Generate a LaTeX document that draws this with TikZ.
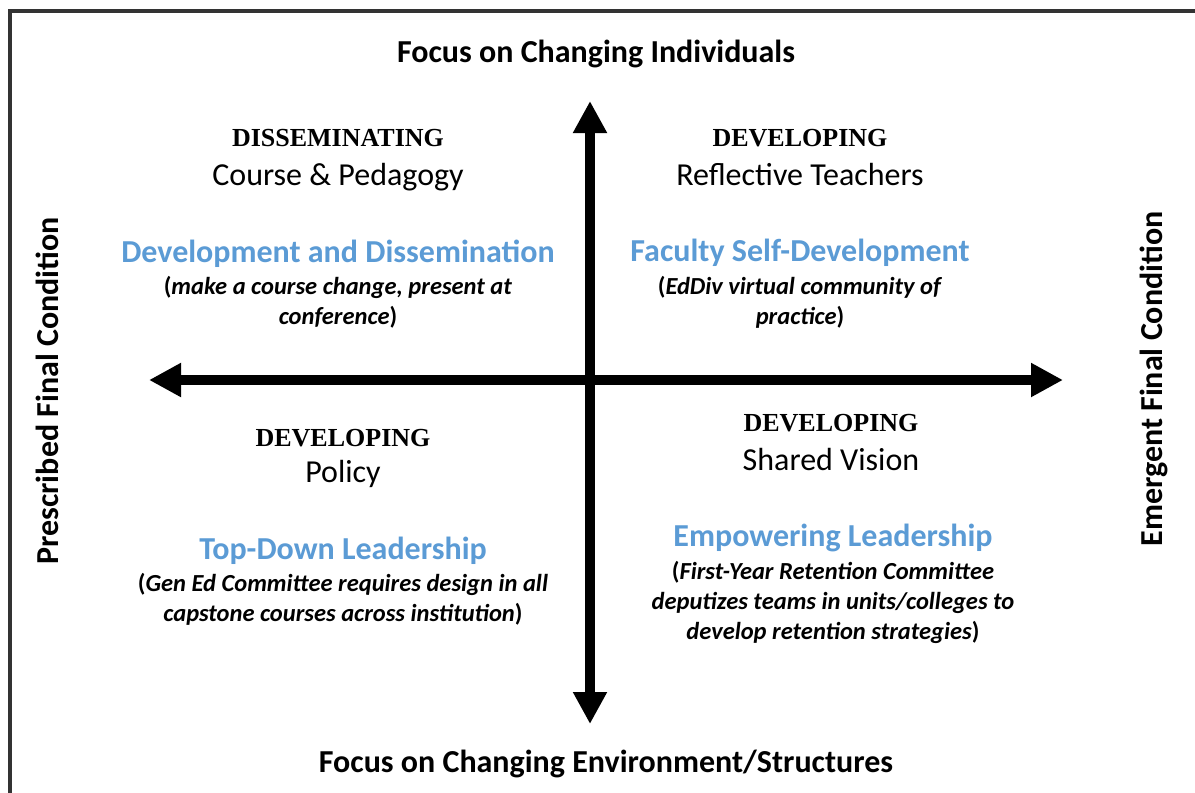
\documentclass[tikz,border=0pt]{standalone}
\usepackage{fontspec}
\setmainfont{Carlito}
\newfontfamily\capsfont{Liberation Serif}
\usetikzlibrary{arrows.meta}
\definecolor{headblue}{HTML}{5B9BD5}
\definecolor{framegray}{HTML}{333333}
\begin{document}
\begin{tikzpicture}[x=1pt,y=-1pt,
  axislabel/.style={font=\bfseries\fontsize{32}{38}\selectfont, inner sep=0pt},
  capslabel/.style={font=\capsfont\bfseries\fontsize{26}{30}\selectfont, inner sep=0pt},
  sublabel/.style={font=\fontsize{32}{38}\selectfont, inner sep=0pt},
  bluehead/.style={font=\bfseries\fontsize{32}{38}\selectfont, text=headblue, inner sep=0pt},
  note/.style={font=\bfseries\fontsize{24.5}{30}\selectfont, align=center, inner sep=0pt},
  axis/.style={line width=10pt,
    {Triangle[length=32pt,width=32pt]}-{Triangle[length=32pt,width=32pt]}}
]
\useasboundingbox (0,0) rectangle (1195,793);

% frame, open towards the right and the bottom
\draw[framegray, line width=4pt] (10,820) -- (10,11) -- (1220,11);

% axes
\coordinate (up) at (590,101);
\coordinate (down) at (590,724);
\coordinate (left) at (149,380);
\coordinate (right) at (1063,380);
\draw[axis] (down) -- (up);
\draw[axis] (left) -- (right);

% axis labels
\node[axislabel] (topl) at (596,54) {Focus on Changing Individuals};
\node[axislabel] (botl) at (606,764) {Focus on Changing Environment/Structures};
\node[axislabel, rotate=90] (leftl) at (47,391) {Prescribed Final Condition};
\node[axislabel, rotate=90] (rightl) at (1154,379) {Emergent Final Condition};

% upper left quadrant
\node[capslabel] (q1a) at (338,138) {DISSEMINATING};
\node[sublabel] (q1b) at (338,177) {Course \& Pedagogy};
\node[bluehead] (q1c) at (338,254) {Development and Dissemination};
\node[note] (q1d) at (338,302) {(\textit{make a course change, present at}\\\textit{conference})};

% upper right quadrant
\node[capslabel] (q2a) at (800,138) {DEVELOPING};
\node[sublabel] (q2b) at (800,175) {Reflective Teachers};
\node[bluehead] (q2c) at (800,253) {Faculty Self-Development};
\node[note] (q2d) at (800,302) {(\textit{EdDiv virtual community of}\\\textit{practice})};

% lower left quadrant
\node[capslabel] (q3a) at (343,438) {DEVELOPING};
\node[sublabel] (q3b) at (343,474) {Policy};
\node[bluehead] (q3c) at (343,551) {Top-Down Leadership};
\node[note] (q3d) at (343,599) {(\textit{Gen Ed Committee requires design in all}\\\textit{capstone courses across institution})};

% lower right quadrant
\node[capslabel] (q4a) at (831,423) {DEVELOPING};
\node[sublabel] (q4b) at (831,460) {Shared Vision};
\node[bluehead] (q4c) at (833,538) {Empowering Leadership};
\node[note] (q4d) at (833,602) {(\textit{First-Year Retention Committee}\\\textit{deputizes teams in units/colleges to}\\\textit{develop retention strategies})};
\end{tikzpicture}
\end{document}
